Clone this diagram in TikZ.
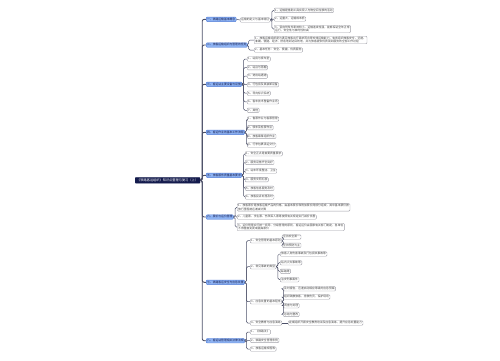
\documentclass[tikz,border=0pt]{standalone}
\usepackage{fontspec}
\newfontfamily\cjk{Noto Sans CJK SC}
\usetikzlibrary{positioning}
\definecolor{rootbg}{HTML}{141B4D}
\definecolor{brbg}{HTML}{8DB2F2}
\definecolor{brline}{HTML}{4F7BD6}
\definecolor{lfline}{HTML}{A0A0A8}
\definecolor{wire}{HTML}{4C5068}
\definecolor{ink}{HTML}{444444}

\begin{document}
\begin{tikzpicture}[x=1pt,y=1pt,
  bx/.style={draw,rounded corners=1pt,anchor=west,inner xsep=1pt,inner ysep=0.8pt,font=\cjk\fontsize{2.8}{3.3}\selectfont},
  rt/.style={bx,fill=rootbg,draw=rootbg,text=white,rounded corners=0.6pt,inner xsep=2pt,inner ysep=1.3pt,font=\cjk\fontsize{3.2}{3.6}\selectfont},
  br/.style={bx,fill=brbg,draw=brline,text=rootbg,text height=2.3pt,text depth=0.6pt},
  lf/.style={bx,fill=white,draw=lfline,text=ink,text height=2.3pt,text depth=0.6pt},
  lf2/.style={bx,fill=white,draw=lfline,text=ink,align=left},
  ln/.style={draw=wire,line width=0.5pt,rounded corners=1.5pt},
  tr/.style={draw=wire,line width=0.9pt,rounded corners=2pt}]
\useasboundingbox (0,0) rectangle (500,-360);

% root
\node[rt] (root) at (135,-180.3) {《铁路客运组织》知识点整理与复习（上）};

% main branches
\node[br] (b1) at (206,-19.3) {一、铁路运输基本概念};
\node[br] (b2) at (206,-45) {二、旅客运输组织与管理的任务};
\node[br] (b3) at (206,-84.3) {三、客运站主要设备与设施};
\node[br] (b4) at (206,-132.3) {四、客运作业的基本工作流程};
\node[br] (b5) at (206,-175.3) {五、旅客服务质量基本要求};
\node[br] (b6) at (206,-217) {六、票价与运价管理};
\node[br] (b7) at (206,-282.3) {七、铁路客运安全与应急处置};
\node[br] (b8) at (206,-340.7) {八、客运站管理相关法律法规};

% branch 1
\node[lf] (b1s) at (240,-20) {运输的定义与基本特征};
\node[lf] (b1a) at (274,-10.3) {1、运输是借助工具实现人与物空间位移的活动};
\node[lf] (b1b) at (274,-19) {2、运量大，运输成本低};
\node[lf2] (b1c) at (274,-29) {3、受自然条件影响较小，运输连续性强，能够保证全年正常\\运行，安全性与准时性较高};

% branch 2
\node[lf2] (b2a) at (254,-40) {1、旅客运输组织是为满足旅客出行需求而合理安排运输能力，有序组织旅客安全、迅速、\\准确、便捷、经济、舒适地到达目的地，并为旅客提供优质周到服务的全部工作过程};
\node[lf] (b2b) at (254,-50) {2、基本任务：安全、便捷、优质服务};

% branch 3
\node[lf] (b3a) at (247,-59) {1、站房与候车室};
\node[lf] (b3b) at (247,-67.55) {2、站台与雨棚};
\node[lf] (b3c) at (247,-76.1) {3、进出站通道};
\node[lf] (b3d) at (247,-84.65) {4、行包房及其装卸设备};
\node[lf] (b3e) at (247,-93.2) {5、导向标识系统};
\node[lf] (b3f) at (247,-101.75) {6、客车技术整备作业场};
\node[lf] (b3g) at (247,-110.3) {7、其他};

% branch 4
\node[lf] (b4a) at (247,-119) {1、售票作业与客票管理};
\node[lf] (b4b) at (247,-127.67) {2、候车及检票作业};
\node[lf] (b4c) at (247,-136.33) {3、旅客乘降组织作业};
\node[lf] (b4d) at (247,-145) {4、行李包裹承运交付};

% branch 5
\node[lf] (b5a) at (245,-153.7) {1、安全正点是首要质量要求};
\node[lf] (b5b) at (245,-162.36) {2、服务设施齐全完好};
\node[lf] (b5c) at (245,-171.02) {3、站车环境整洁、卫生};
\node[lf] (b5d) at (245,-179.68) {4、服务文明礼貌};
\node[lf] (b5e) at (245,-188.34) {5、旅客信息服务及时};
\node[lf] (b5f) at (245,-197) {6、旅客投诉处理及时};

% branch 6
\node[lf2] (b6a) at (237,-207.3) {1、旅客票价是旅客运输产品的价格，由基本票价和附加票价两部分组成，其中基本票价按\\旅行里程递远递减计算};
\node[lf] (b6b) at (237,-217) {2、儿童票、学生票、伤残军人票等按照有关规定实行减价优惠};
\node[lf2] (b6c) at (237,-227) {3、运价管理实行统一领导、分级管理的原则，客运运价由国家有关部门制定，各单位\\不得擅自变更或提高票价};

% branch 7
\node[lf] (b7a) at (250,-240.7) {1、安全管理的基本原则};
\node[lf] (b7b) at (250,-266.7) {2、常见事故的类型};
\node[lf] (b7c) at (250,-301.7) {3、应急处置的基本程序};
\node[lf] (b7d) at (250,-323) {4、安全教育与应急演练};
\node[lf] (b7a1) at (282,-237) {坚持安全第一};
\node[lf] (b7a2) at (282,-245.3) {坚持预防为主};
\node[lf] (b7b1) at (280,-254) {旅客人身伤害事故及行包损失事故等};
\node[lf] (b7b2) at (280,-262.7) {站内火灾事故等};
\node[lf] (b7b3) at (280,-271.3) {踩踏等};
\node[lf] (b7b4) at (280,-279.7) {治安刑事案件};
\node[lf] (b7c1) at (283,-288.7) {及时报告，迅速启动相应等级的应急预案};
\node[lf] (b7c2) at (283,-297) {组织疏散旅客，抢救伤员，保护现场};
\node[lf] (b7c3) at (283,-305.7) {调查与处理};
\node[lf] (b7c4) at (283,-314.3) {总结与整改};
\node[lf] (b7d1) at (288,-323) {定期组织开展安全教育培训及应急演练，提升应急处置能力};

% branch 8
\node[lf] (b8a) at (250,-332) {1、《铁路法》};
\node[lf] (b8b) at (250,-340.3) {2、铁路安全管理条例};
\node[lf] (b8c) at (250,-349) {3、旅客运输规程等};

% trunk
\draw[tr] (root.east) -- ++(2,0) |- (b1.west);
\draw[tr] (root.east) -- ++(2,0) |- (b2.west);
\draw[tr] (root.east) -- ++(2,0) |- (b3.west);
\draw[tr] (root.east) -- ++(2,0) |- (b4.west);
\draw[tr] (root.east) -- ++(2,0) |- (b5.west);
\draw[tr] (root.east) -- ++(2,0) |- (b6.west);
\draw[tr] (root.east) -- ++(2,0) |- (b7.west);
\draw[tr] (root.east) -- ++(2,0) |- (b8.west);

% links
\draw[ln] (b1.east) -- (b1s.west);
\draw[ln] (b1s.east) -- ++(1.5,0) |- (b1a.west);
\draw[ln] (b1s.east) -- ++(1.5,0) |- (b1b.west);
\draw[ln] (b1s.east) -- ++(1.5,0) |- (b1c.west);
\draw[ln] (b2.east) -- ++(1,0) |- (b2a.west);
\draw[ln] (b2.east) -- ++(1,0) |- (b2b.west);
\draw[ln] (b3.east) -- ++(1.5,0) |- (b3a.west);
\draw[ln] (b3.east) -- ++(1.5,0) |- (b3b.west);
\draw[ln] (b3.east) -- ++(1.5,0) |- (b3c.west);
\draw[ln] (b3.east) -- ++(1.5,0) |- (b3d.west);
\draw[ln] (b3.east) -- ++(1.5,0) |- (b3e.west);
\draw[ln] (b3.east) -- ++(1.5,0) |- (b3f.west);
\draw[ln] (b3.east) -- ++(1.5,0) |- (b3g.west);
\draw[ln] (b4.east) -- ++(1.5,0) |- (b4a.west);
\draw[ln] (b4.east) -- ++(1.5,0) |- (b4b.west);
\draw[ln] (b4.east) -- ++(1.5,0) |- (b4c.west);
\draw[ln] (b4.east) -- ++(1.5,0) |- (b4d.west);
\draw[ln] (b5.east) -- ++(1.5,0) |- (b5a.west);
\draw[ln] (b5.east) -- ++(1.5,0) |- (b5b.west);
\draw[ln] (b5.east) -- ++(1.5,0) |- (b5c.west);
\draw[ln] (b5.east) -- ++(1.5,0) |- (b5d.west);
\draw[ln] (b5.east) -- ++(1.5,0) |- (b5e.west);
\draw[ln] (b5.east) -- ++(1.5,0) |- (b5f.west);
\draw[ln] (b6.east) -- ++(1.5,0) |- (b6a.west);
\draw[ln] (b6.east) -- ++(1.5,0) |- (b6b.west);
\draw[ln] (b6.east) -- ++(1.5,0) |- (b6c.west);
\draw[ln] (b7.east) -- ++(1.5,0) |- (b7a.west);
\draw[ln] (b7.east) -- ++(1.5,0) |- (b7b.west);
\draw[ln] (b7.east) -- ++(1.5,0) |- (b7c.west);
\draw[ln] (b7.east) -- ++(1.5,0) |- (b7d.west);
\draw[ln] (b7a.east) -- ++(1.5,0) |- (b7a1.west);
\draw[ln] (b7a.east) -- ++(1.5,0) |- (b7a2.west);
\draw[ln] (b7b.east) -- ++(1.5,0) |- (b7b1.west);
\draw[ln] (b7b.east) -- ++(1.5,0) |- (b7b2.west);
\draw[ln] (b7b.east) -- ++(1.5,0) |- (b7b3.west);
\draw[ln] (b7b.east) -- ++(1.5,0) |- (b7b4.west);
\draw[ln] (b7c.east) -- ++(1.5,0) |- (b7c1.west);
\draw[ln] (b7c.east) -- ++(1.5,0) |- (b7c2.west);
\draw[ln] (b7c.east) -- ++(1.5,0) |- (b7c3.west);
\draw[ln] (b7c.east) -- ++(1.5,0) |- (b7c4.west);
\draw[ln] (b7d.east) -- (b7d1.west);
\draw[ln] (b8.east) -- ++(1.5,0) |- (b8a.west);
\draw[ln] (b8.east) -- ++(1.5,0) |- (b8b.west);
\draw[ln] (b8.east) -- ++(1.5,0) |- (b8c.west);
\end{tikzpicture}
\end{document}
